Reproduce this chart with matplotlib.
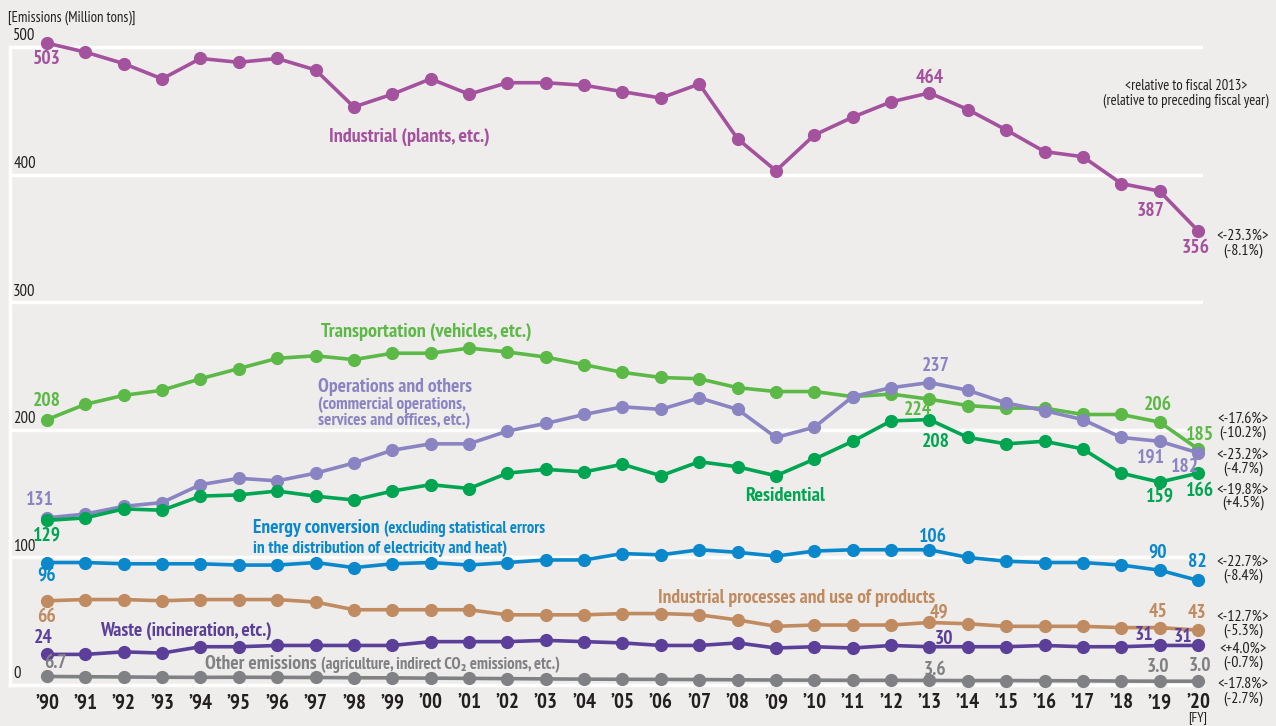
import matplotlib.pyplot as plt

plt.rcParams['font.family'] = ['PT Sans Narrow', 'Roboto Condensed', 'DejaVu Sans']

years = ["’%02d" % (y % 100) for y in range(1990, 2021)]

industrial = [503, 496, 487, 475, 491, 488, 491, 482, 453, 463, 475, 463, 472, 472, 470, 465,
              460, 471, 428, 403, 431, 445, 457, 464, 451, 435, 418, 414, 393, 387, 356]
transport = [208, 220, 227, 231, 240, 248, 256, 258, 255, 260, 260, 264, 261, 257, 251, 245,
             241, 240, 233, 230, 230, 226, 228, 224, 219, 217, 217, 212, 212, 206, 185]
operations = [131, 134, 140, 143, 157, 162, 160, 166, 174, 184, 189, 189, 199, 205, 212, 218,
              216, 225, 216, 194, 202, 226, 233, 237, 231, 221, 215, 208, 194, 191, 182]
residential = [129, 131, 138, 137, 148, 149, 152, 148, 145, 152, 157, 154, 166, 169, 167, 173,
               164, 175, 171, 164, 177, 191, 207, 208, 194, 189, 191, 185, 166, 159, 166]
energy = [96, 96, 95, 95, 95, 94, 94, 96, 92, 95, 96, 94, 96, 98, 98, 103,
          102, 106, 104, 101, 105, 106, 106, 106, 100, 97, 96, 96, 94, 90, 82]
processes = [66, 67, 67, 66, 67, 67, 67, 65, 59, 59, 59, 59, 55, 55, 55, 56,
             56, 55, 51, 46, 47, 47, 47, 49, 48, 46, 46, 46, 45, 45, 43]
waste = [24, 24, 26, 25, 30, 30, 31, 31, 31, 31, 34, 34, 34, 35, 34, 33,
         31, 31, 33, 29, 30, 29, 31, 30, 30, 30, 31, 30, 30, 31, 31]
other = [6.7, 6.5, 6.3, 6.1, 6.0, 6.1, 6.0, 5.9, 5.7, 5.6, 5.4, 5.2, 5.0, 4.8, 4.6, 4.5,
         4.4, 4.3, 4.1, 3.9, 3.8, 3.7, 3.7, 3.6, 3.5, 3.5, 3.4, 3.3, 3.1, 3.0, 3.0]

vs_2013 = ["<-23.3%>", "<-17.6%>", "<-23.2%>", "<-19.8%>", "<-22.7%>", "<-12.7%>", "<+4.0%>", "<-17.8%>"]
vs_prev = ["(-8.1%)", "(-10.2%)", "(-4.7%)", "(+4.5%)", "(-8.4%)", "(-5.3%)", "(-0.7%)", "(-2.7%)"]

bg = '#eeedeb'
c_ind = '#a4519e'
c_tra = '#5cb947'
c_ope = '#8a84c2'
c_res = '#00a551'
c_ene = '#0a88cb'
c_pro = '#c08b60'
c_was = '#5b3f98'
c_oth = '#808184'
dark = '#231f20'

W, H = 1276, 726
fig = plt.figure(figsize=(W / 100, H / 100), dpi=100, facecolor=bg)
ax = fig.add_axes([10 / W, (H - 691.4) / H, 1193 / W, 0.9052])
ax.set_facecolor(bg)
ax.set_xlim(-0.964, 30.13)
ax.set_ylim(-5, 510)


def px(x, y):
    return x / W, 1 - y / H


for v in [100, 200, 300, 400, 500]:
    ax.axhline(v, color='white', lw=2.5, zorder=0)
for s in ['top', 'right']:
    ax.spines[s].set_visible(False)
ax.spines['left'].set_bounds(0, 500)
ax.spines['left'].set_color('white')
ax.spines['left'].set_linewidth(2.5)
ax.spines['bottom'].set_position(('data', 0))
ax.spines['bottom'].set_color('white')
ax.spines['bottom'].set_linewidth(2.5)
ax.set_yticks([])
ax.set_xticks(range(len(years)))
ax.set_xticklabels(years, fontsize=15, fontweight='bold', color=dark)
ax.tick_params(axis='x', length=0, pad=6)

for v in [0, 100, 200, 300, 400, 500]:
    ax.text(-0.88, v + 2, str(v), fontsize=12, color=dark, va='bottom', ha='left')

series = [(industrial, c_ind), (transport, c_tra), (operations, c_ope), (residential, c_res),
          (energy, c_ene), (processes, c_pro), (waste, c_was), (other, c_oth)]
xs = range(len(years))
for vals, c in series:
    ax.plot(xs, vals, color=c, lw=2.6, marker='o', ms=8.5, zorder=3, clip_on=False)

# value labels: (series index, year index, dx, dy) in pixels
labels = [
    (0, 0, 0, -16), (0, 23, 0, 15), (0, 29, -9, -20), (0, 30, -2, -17),
    (1, 0, 0, 19), (1, 23, -12, -11), (1, 29, -2, 17), (1, 30, 2, 14),
    (2, 0, -7, 18), (2, 23, 6, 17), (2, 29, -9, -16), (2, 30, -13, -14),
    (3, 0, 0, -15), (3, 23, 6, -22), (3, 29, 0, -14), (3, 30, 2, -18),
    (4, 0, 0, -13), (4, 23, 3, 13), (4, 29, -2, 18), (4, 30, -1, 18),
    (5, 0, 0, -16), (5, 23, 9, 10), (5, 29, -2, 16), (5, 30, -1, 17),
    (6, 0, -4, 16), (6, 23, 15, 8), (6, 29, -16, 10), (6, 30, -15, 8),
    (7, 0, 8, 13), (7, 23, 6, 10), (7, 29, -2, 14), (7, 30, 2, 15),
]
for si, yi, dx, dy in labels:
    vals, c = series[si]
    v = vals[yi]
    txt = ('%.1f' % v) if si == 7 else str(int(v))
    ax.annotate(txt, (yi, v), xytext=(dx, dy), textcoords='offset pixels',
                ha='center', va='center', fontsize=14, fontweight='bold', color=c,
                annotation_clip=False)

# right-hand change annotations, next to each series end
ends = [346, 203, 175, 148, 91, 48, 23, -5]
for i in range(len(vs_2013)):
    ax.text(31.17, ends[i], vs_2013[i] + '\n' + vs_prev[i], ha='center', va='center',
            fontsize=11.5, color=dark, linespacing=1.0, clip_on=False)

fig.text(*px(1186, 86), '<relative to fiscal 2013>', ha='center', va='center', fontsize=10.5, color=dark)
fig.text(*px(1186, 101), '(relative to preceding fiscal year)', ha='center', va='center', fontsize=10.5, color=dark)
fig.text(*px(8, 18), '[Emissions (Million tons)]', ha='left', va='center', fontsize=10.5, color=dark)
fig.text(*px(1198, 718), '[FY]', ha='center', va='center', fontsize=10, color=dark)


def name(x, y, main, sub, color, size=14):
    t = fig.text(*px(x, y), main, ha='left', va='baseline', fontsize=size, fontweight='bold', color=color)
    if sub:
        # smaller trailing text, placed right after the main name
        ax.annotate(sub, xy=(1, 0), xycoords=t, xytext=(4, 0), textcoords='offset pixels',
                    ha='left', va='bottom', fontsize=12, fontweight='bold', color=color,
                    annotation_clip=False)
    return t


# series names (y is the baseline)
name(329, 142, 'Industrial (plants, etc.)', None, c_ind, 14.5)
name(321, 337, 'Transportation (vehicles, etc.)', None, c_tra, 14.5)
name(318, 392, 'Operations and others', None, c_ope, 14)
fig.text(*px(318, 413), '(commercial operations,\nservices and offices, etc.)', ha='left', va='center',
         fontsize=12.5, fontweight='bold', color=c_ope, linespacing=1.0)
name(745, 501, 'Residential', None, c_res, 14.5)
name(253, 533, 'Energy conversion', '(excluding statistical errors', c_ene, 14)
fig.text(*px(253, 553), 'in the distribution of electricity and heat)', ha='left', va='baseline',
         fontsize=12.5, fontweight='bold', color=c_ene)
name(658, 603, 'Industrial processes and use of products', None, c_pro, 14)
name(100, 636, 'Waste (incineration, etc.)', None, c_was, 14)
name(205, 669, 'Other emissions', '(agriculture, indirect CO₂ emissions, etc.)', c_oth, 14)

fig.savefig('out.png', dpi=100, facecolor=bg)
